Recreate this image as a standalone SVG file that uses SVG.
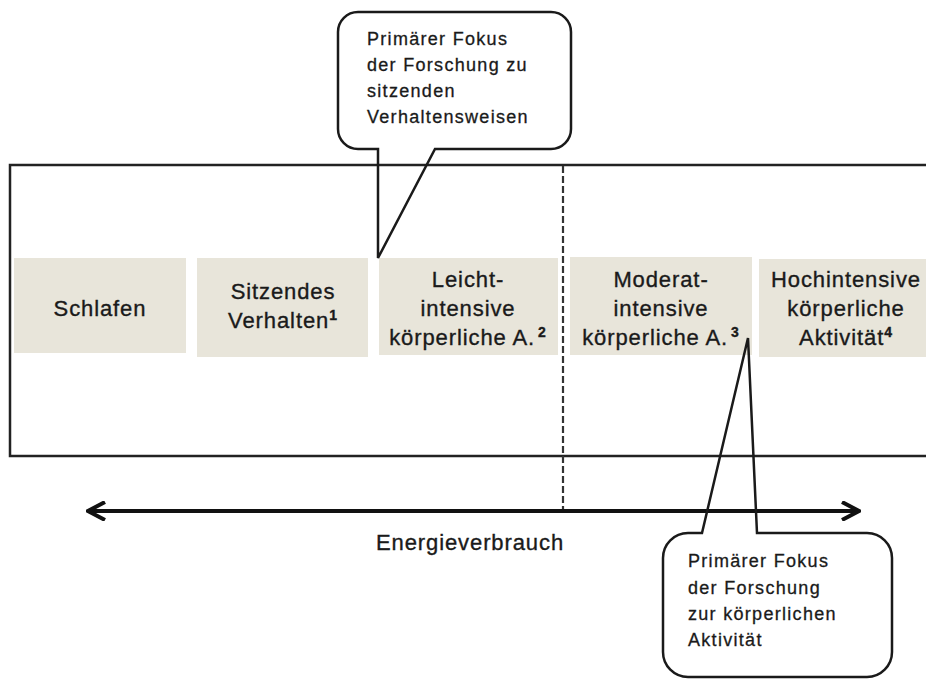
<svg xmlns="http://www.w3.org/2000/svg" width="926" height="679" viewBox="0 0 926 679">
  <style>
    .frame { fill: none; stroke: #222; stroke-width: 2.5; }
    .box { fill: #E8E5DA; }
    .lbl { font-family: "Liberation Sans", Arial, sans-serif; font-size: 22px; letter-spacing: 0.9px; fill: #1a1a1a; stroke: #1a1a1a; stroke-width: 0.35px; text-anchor: middle; }
    .sup { font-size: 14px; font-weight: bold; }
    .call { fill: none; stroke: #1a1a1a; stroke-width: 2.5; stroke-linejoin: miter; }
    .ctext { font-family: "Liberation Sans", Arial, sans-serif; font-size: 18px; letter-spacing: 1.3px; fill: #1a1a1a; stroke: #1a1a1a; stroke-width: 0.3px; }
    .dash { stroke: #333; stroke-width: 2.2; stroke-dasharray: 7 3; fill: none; }
    .axis { stroke: #111; stroke-width: 4; fill: none; }
  </style>
  <defs>
    <marker id="chev" markerUnits="userSpaceOnUse" viewBox="0 0 20 20" markerWidth="20" markerHeight="20" refX="18" refY="10" orient="auto-start-reverse">
      <path d="M1,1 L18,10 L1,19" fill="none" stroke="#111" stroke-width="4"/>
    </marker>
  </defs>
  <rect width="926" height="679" fill="#fff"/>

  <g id="frame">
    <rect class="frame" x="10" y="165" width="930" height="291"/>
  </g>

  <g id="node-schlafen">
    <rect class="box" x="14" y="258" width="172" height="95"/>
    <text class="lbl" x="100" y="316">Schlafen</text>
  </g>
  <g id="node-sitzend">
    <rect class="box" x="197" y="258" width="171" height="99"/>
    <text class="lbl" x="283" y="299">Sitzendes</text>
    <text class="lbl" x="283" y="328">Verhalten<tspan class="sup" dy="-8">1</tspan></text>
  </g>
  <g id="node-leicht">
    <rect class="box" x="379" y="258" width="179" height="97"/>
    <text class="lbl" x="468" y="287">Leicht-</text>
    <text class="lbl" x="468" y="316">intensive</text>
    <text class="lbl" x="468" y="345">körperliche A.<tspan class="sup" dx="3" dy="-8">2</tspan></text>
  </g>
  <g id="node-moderat">
    <rect class="box" x="570" y="257" width="182" height="98"/>
    <text class="lbl" x="661" y="287">Moderat-</text>
    <text class="lbl" x="661" y="316">intensive</text>
    <text class="lbl" x="661" y="345">körperliche A.<tspan class="sup" dx="3" dy="-8">3</tspan></text>
  </g>
  <g id="node-hoch">
    <rect class="box" x="759" y="259" width="180" height="98"/>
    <text class="lbl" x="846" y="287">Hochintensive</text>
    <text class="lbl" x="846" y="316">körperliche</text>
    <text class="lbl" x="846" y="345">Aktivität<tspan class="sup" dy="-8">4</tspan></text>
  </g>

  <g id="connectors">
    <line class="dash" x1="563" y1="166" x2="563" y2="510"/>
    <line class="axis" x1="88" y1="511" x2="859" y2="511" marker-start="url(#chev)" marker-end="url(#chev)"/>
  </g>

  <g id="axis-label">
    <text class="lbl" x="470" y="550">Energieverbrauch</text>
  </g>

  <g id="callout-sedentary">
    <path class="call" d="M358,12 H551 A20,20 0 0 1 571,32 V129 A20,20 0 0 1 551,149 H435 L378,258 V149 H358 A20,20 0 0 1 338,129 V32 A20,20 0 0 1 358,12 Z"/>
    <text class="ctext" x="367" y="45">Primärer Fokus</text>
    <text class="ctext" x="367" y="71">der Forschung zu</text>
    <text class="ctext" x="367" y="97">sitzenden</text>
    <text class="ctext" x="367" y="123">Verhaltensweisen</text>
  </g>

  <g id="callout-activity">
    <path class="call" d="M688,533 H702 L748,338 L757,533 H867 A25,25 0 0 1 892,558 V652 A25,25 0 0 1 867,677 H688 A25,25 0 0 1 663,652 V558 A25,25 0 0 1 688,533 Z"/>
    <text class="ctext" x="688" y="567">Primärer Fokus</text>
    <text class="ctext" x="688" y="594">der Forschung</text>
    <text class="ctext" x="688" y="620">zur körperlichen</text>
    <text class="ctext" x="688" y="646">Aktivität</text>
  </g>
</svg>
